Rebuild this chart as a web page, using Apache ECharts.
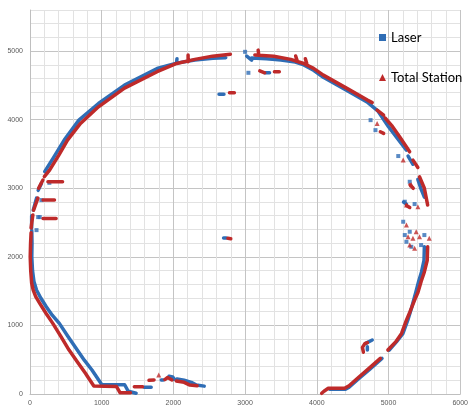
<!DOCTYPE html>
<html>
<head>
<meta charset="utf-8">
<script src="https://cdn.jsdelivr.net/npm/echarts@6/dist/echarts.min.js"></script>
<style>
  html, body { margin: 0; padding: 0; background: #fff; }
  #diagram { width: 471px; height: 409px; }
</style>
</head>
<body>
<div id="diagram"></div>
<script>
// axis ranges and tick labels
var xTicks = [0, 1000, 2000, 3000, 4000, 5000, 6000];
var yTicks = [0, 1000, 2000, 3000, 4000, 5000];

// Laser (blue) - continuous traces
var laserTraces = [
  [[1480, 12], [1370, 40], [1320, 135], [1000, 140], [864, 350], [760, 490], [659, 641], [530, 840], [409, 1030], [310, 1150], [227, 1273], [150, 1400], [91, 1516], [55, 1640], [35, 1800], [25, 2000], [28, 2200], [25, 2380]],
  [[23, 2420], [23, 2600]],
  [[45, 2682], [91, 2857]],
  [[114, 2970], [159, 3070]],
  [[205, 3243], [330, 3450], [477, 3703], [682, 3994], [955, 4237], [1318, 4504], [1773, 4746], [2045, 4825], [2300, 4870], [2550, 4895], [2730, 4905]],
  [[2045, 4840], [2050, 4890]],
  [[3023, 4927], [3091, 4870]],
  [[3091, 4900], [3300, 4890], [3500, 4870], [3700, 4840], [3818, 4800], [3955, 4720], [4091, 4620], [4432, 4420], [4700, 4260], [4850, 4130], [5000, 3897], [5130, 3720], [5250, 3557]],
  [[5273, 3470], [5341, 3350]],
  [[5409, 3130], [5450, 3000], [5500, 2870]],
  [[5210, 2800], [5250, 2770]],
  [[3273, 4684], [3341, 4684]],
  [[2636, 4373], [2705, 4373]],
  [[2700, 2275], [2740, 2275]],
  [[5500, 2147], [5495, 1950], [5460, 1780], [5420, 1640], [5380, 1480], [5320, 1250], [5270, 1080], [5200, 880], [5110, 760], [5010, 640]],
  [[4909, 520], [4728, 350], [4568, 210], [4450, 100], [4400, 70], [4180, 70]],
  [[4682, 739], [4773, 787]],
  [[4705, 690], [4705, 640]],
  [[1590, 97], [1690, 97]],
  [[1830, 205], [1860, 205]],
  [[1940, 260], [1990, 250], [2010, 215]],
  [[2050, 220], [2150, 200], [2250, 170], [2320, 130], [2430, 115]]
];
var laserDots = [
  [159, 2828], [270, 3080], [114, 2580], [136, 2580], [91, 2390], [3000, 4990], [3046, 4684],
  [4750, 3994], [4818, 3848], [5136, 3470], [5296, 3095], [5227, 2804], [5364, 2770],
  [5205, 2512], [5296, 2366], [5227, 2318], [5500, 2318], [5250, 2220], [5455, 2172], [5318, 2147]
];

// Total Station (red) - continuous traces
var stationTraces = [
  [[1400, 20], [1255, 20], [1205, 110], [1180, 118], [890, 118], [800, 260], [773, 301], [659, 470], [545, 641], [430, 840], [318, 1030], [227, 1170], [136, 1322], [80, 1420], [45, 1516], [23, 1618], [10, 1800], [3, 2000], [8, 2200], [15, 2350]],
  [[15, 2420], [25, 2500], [40, 2609]],
  [[50, 2682], [80, 2770], [110, 2857]],
  [[120, 3000], [150, 3060], [180, 3120]],
  [[200, 3170], [273, 3265], [400, 3480], [523, 3703], [704, 3946], [955, 4188], [1318, 4460], [1773, 4700], [2045, 4820], [2300, 4880], [2546, 4927], [2795, 4956]],
  [[182, 2561], [364, 2561]],
  [[182, 2828], [341, 2828]],
  [[250, 3095], [454, 3095]],
  [[2205, 4845], [2205, 4942]],
  [[3136, 4945], [3400, 4925], [3637, 4880], [3818, 4820], [3955, 4748], [4091, 4650], [4432, 4450], [4705, 4286], [4773, 4250]],
  [[3182, 5015], [3190, 4950]],
  [[3705, 4930], [3730, 4850]],
  [[3840, 4890], [3860, 4820]],
  [[3205, 4713], [3273, 4684]],
  [[3409, 4698], [3477, 4698]],
  [[2782, 4392], [2850, 4392]],
  [[2760, 2270], [2800, 2265]],
  [[4841, 4140], [4932, 4067]],
  [[4955, 4023], [5045, 3915], [5150, 3760], [5295, 3532]],
  [[5341, 3411], [5409, 3304]],
  [[5432, 3168], [5500, 3000], [5546, 2755]],
  [[4886, 3824], [4932, 3800]],
  [[5250, 2750], [5296, 2720]],
  [[5300, 3050], [5345, 3000]],
  [[5546, 2147], [5540, 1950], [5500, 1780], [5455, 1640], [5410, 1480], [5364, 1370], [5300, 1200], [5250, 1078], [5182, 884], [5100, 760], [4991, 641]],
  [[4886, 520], [4728, 374], [4568, 229], [4450, 120], [4387, 83], [4160, 83], [4100, 40], [4068, 10]],
  [[4650, 610], [4636, 680], [4670, 735], [4705, 750]],
  [[1455, 106], [1570, 106]],
  [[1660, 200], [1730, 205]],
  [[1880, 210], [1920, 240], [1980, 205]],
  [[2040, 190], [2150, 170], [2230, 130], [2330, 120]]
];
var stationDots = [
  [1796, 277], [4841, 3946], [5205, 3411], [5318, 3050], [5250, 2755], [5410, 2730],
  [5250, 2464], [5386, 2366], [5273, 2293], [5341, 2270], [5432, 2293], [5568, 2270], [5296, 2172], [5364, 2124]
];

var blue = "#2f6db5";
var red = "#be2a2a";

function joinTraces(traces) {
  var out = [];
  traces.forEach(function (t, i) {
    if (i) out.push("-");
    out = out.concat(t);
  });
  return out;
}

function labelOnTicks(ticks) {
  return function (v) {
    return ticks.indexOf(v) >= 0 ? String(v) : "";
  };
}

var gridColors = ["#c4c4c4", "#e2e2e2", "#e2e2e2", "#e2e2e2", "#e2e2e2"];

var myChart = echarts.init(document.getElementById("diagram"));
var option = {
  animation: false,
  grid: { left: 30, right: 1, top: 10, bottom: 15 },
  legend: {
    orient: "vertical",
    left: 374,
    top: 26,
    itemGap: 27,
    itemWidth: 7,
    itemHeight: 7,
    textStyle: { fontFamily: "Lato", fontSize: 13, color: "#000" },
    data: [
      { name: "Laser", icon: "rect" },
      { name: "Total Station", icon: "triangle" }
    ]
  },
  xAxis: {
    type: "value",
    min: 0,
    max: 6000,
    interval: 200,
    axisLine: { lineStyle: { color: "#bfbfbf" } },
    axisTick: { show: false },
    axisLabel: {
      formatter: labelOnTicks(xTicks),
      fontSize: 7,
      color: "#595959",
      margin: 6,
      showMaxLabel: true,
      alignMaxLabel: "center"
    },
    splitLine: { lineStyle: { color: gridColors, width: 1 } }
  },
  yAxis: {
    type: "value",
    min: 0,
    max: 5600,
    interval: 200,
    axisLine: { show: true, lineStyle: { color: "#bfbfbf" } },
    axisTick: { show: false },
    axisLabel: {
      formatter: labelOnTicks(yTicks),
      fontSize: 7,
      color: "#595959",
      margin: 7
    },
    splitLine: { lineStyle: { color: gridColors, width: 1 } }
  },
  series: [
    {
      name: "Laser",
      type: "line",
      data: joinTraces(laserTraces),
      connectNulls: false,
      showSymbol: false,
      symbol: "none",
      color: blue,
      lineStyle: { color: blue, width: 3.5, cap: "round", join: "round" },
      z: 2
    },
    {
      name: "Laser",
      type: "scatter",
      data: laserDots,
      symbol: "rect",
      symbolSize: 4,
      itemStyle: { color: blue },
      z: 2
    },
    {
      name: "Total Station",
      type: "line",
      data: joinTraces(stationTraces),
      connectNulls: false,
      showSymbol: false,
      symbol: "none",
      color: red,
      lineStyle: { color: red, width: 3.5, cap: "round", join: "round" },
      z: 3
    },
    {
      name: "Total Station",
      type: "scatter",
      data: stationDots,
      symbol: "triangle",
      symbolSize: 5,
      itemStyle: { color: red },
      z: 3
    }
  ]
};
myChart.setOption(option);
</script>
</body>
</html>
